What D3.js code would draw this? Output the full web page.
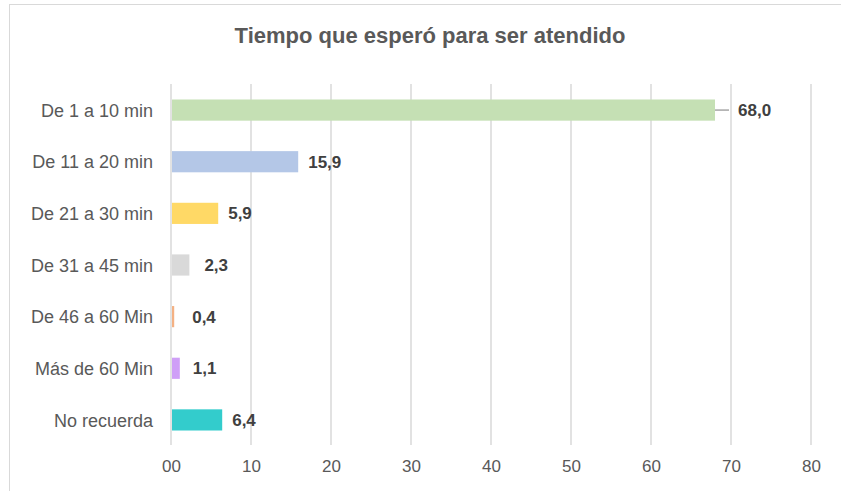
<!DOCTYPE html>
<html>
<head>
<meta charset="utf-8">
<script src="https://cdn.jsdelivr.net/npm/d3@7"></script>
<style>
  body { margin: 0; background: #fff; }
  text { font-family: "Liberation Sans", Arial, sans-serif; }
</style>
</head>
<body>
<div id="chart"></div>
<script>
// data
var categories = ["De 1 a 10 min", "De 11 a 20 min", "De 21 a 30 min", "De 31 a 45 min",
    "De 46 a 60 Min", "Más de 60 Min", "No recuerda"];
var values = [68.0, 15.9, 5.9, 2.3, 0.4, 1.1, 6.4];
var xTicks = [0, 10, 20, 30, 40, 50, 60, 70, 80];

// styling kept apart from the data
var colors = ["#C5E0B4", "#B4C7E7", "#FFD966", "#D9D9D9", "#F4B183", "#CF9FF7", "#33CCCC"];
var labelDx = [23, 10, 10, 15, 18, 13, 10];

var svgWidth = 841;
var svgHeight = 491;

var svg = d3.select("#chart")
    .append("svg")
    .attr("width", svgWidth)
    .attr("height", svgHeight);

// chart frame (runs off the right and bottom edge)
svg.append("rect")
    .attr("x", 9.5)
    .attr("y", 4.5)
    .attr("width", 840)
    .attr("height", 500)
    .attr("fill", "#fff")
    .attr("stroke", "#D9D9D9")
    .attr("stroke-width", 1);

svg.append("text")
    .attr("x", 430)
    .attr("y", 43)
    .attr("text-anchor", "middle")
    .attr("font-size", "22px")
    .attr("font-weight", "bold")
    .attr("fill", "#595959")
    .text("Tiempo que esperó para ser atendido");

var xScale = d3.scaleLinear()
    .domain([0, 80])
    .range([171, 811]);

var yScale = d3.scaleBand()
    .domain(categories)
    .range([84, 446])
    .paddingInner(0.59)
    .paddingOuter(0.3);

// gridlines
svg.append("g")
    .selectAll("line")
    .data(xTicks)
    .enter()
    .append("line")
    .attr("x1", d => xScale(d))
    .attr("x2", d => xScale(d))
    .attr("y1", 84)
    .attr("y2", 445)
    .attr("stroke", "#D9D9D9")
    .attr("stroke-width", 1.5);

// x axis labels
var bottomAxis = d3.axisBottom(xScale)
    .tickValues(xTicks)
    .tickFormat(d3.format("02d"))
    .tickSize(0)
    .tickPadding(0);

var xAxis = svg.append("g")
    .attr("transform", "translate(0, 460)")
    .call(bottomAxis);
xAxis.select(".domain").remove();
xAxis.selectAll("text")
    .attr("font-size", "17px")
    .attr("fill", "#595959");

// y axis labels
var leftAxis = d3.axisLeft(yScale)
    .tickSize(0)
    .tickPadding(0);

var yAxis = svg.append("g")
    .attr("transform", "translate(153, 1)")
    .call(leftAxis);
yAxis.select(".domain").remove();
yAxis.selectAll("text")
    .attr("font-size", "18px")
    .attr("fill", "#595959");

// bars
svg.append("g")
    .selectAll("rect")
    .data(values)
    .enter()
    .append("rect")
    .attr("x", xScale(0) + 1)
    .attr("y", (d, i) => yScale(categories[i]))
    .attr("width", d => xScale(d) - xScale(0) - 1)
    .attr("height", yScale.bandwidth())
    .attr("fill", (d, i) => colors[i]);

// leader line for the first label
svg.append("line")
    .attr("x1", xScale(values[0]))
    .attr("x2", xScale(values[0]) + 14)
    .attr("y1", yScale(categories[0]) + yScale.bandwidth() / 2)
    .attr("y2", yScale(categories[0]) + yScale.bandwidth() / 2)
    .attr("stroke", "#A6A6A6")
    .attr("stroke-width", 1.5);

// value labels
var fmt = d3.format(".1f");
svg.append("g")
    .selectAll("text")
    .data(values)
    .enter()
    .append("text")
    .attr("x", (d, i) => xScale(d) + labelDx[i])
    .attr("y", (d, i) => yScale(categories[i]) + yScale.bandwidth() / 2)
    .attr("dy", "0.35em")
    .attr("font-size", "17px")
    .attr("font-weight", "bold")
    .attr("fill", "#404040")
    .text(d => fmt(d).replace(".", ","));
</script>
</body>
</html>
